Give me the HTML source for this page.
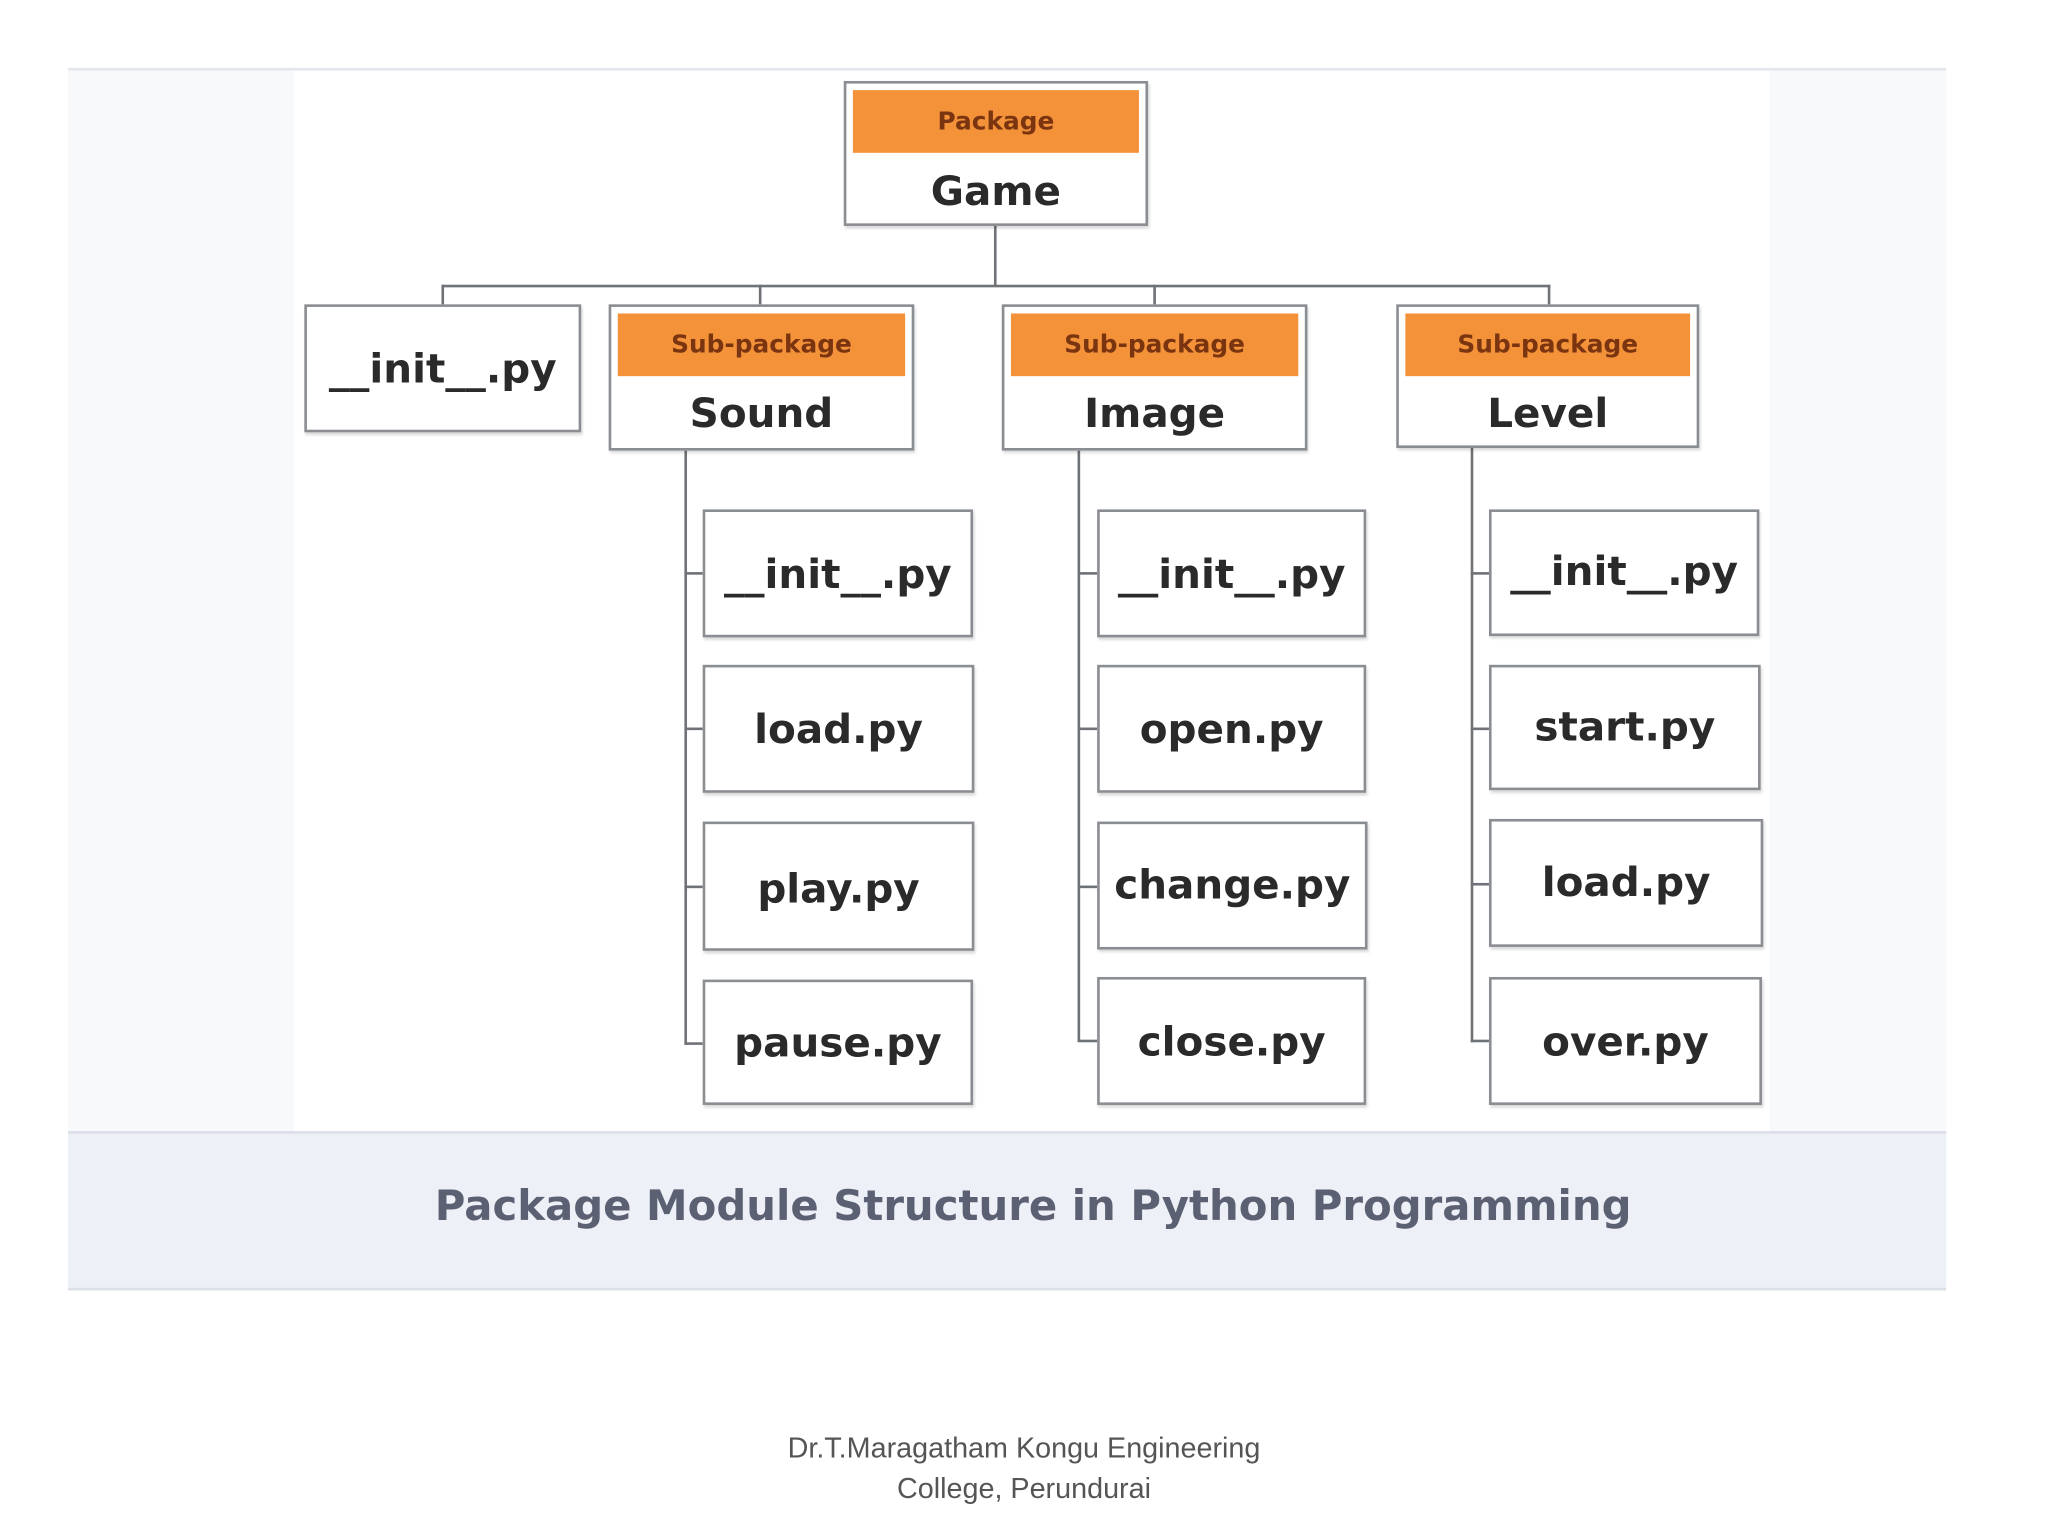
<!DOCTYPE html>
<html><head><meta charset="utf-8"><style>
html,body{margin:0;padding:0;background:#fff;width:2048px;height:1536px;overflow:hidden}
#w{position:absolute;left:0;top:0;width:1568px;height:1176px;transform:scale(1.30612);transform-origin:0 0;font-family:"DejaVu Sans","Liberation Sans",sans-serif}
.a{position:absolute;box-sizing:border-box}
.box{position:absolute;box-sizing:border-box;border:2px solid #8a8d92;background:#fff;box-shadow:1px 2px 2px rgba(0,0,0,.15)}
.t{position:absolute;left:0;right:0;text-align:center;color:#2a2a2a;font-size:31px;font-weight:bold}
.hd{position:absolute;left:5px;right:5px;top:5px;height:48px;background:#f4923a;color:#7a3510;font-weight:bold;font-size:19px;text-align:center;line-height:48px}
.l{position:absolute;background:#6f7277}
</style></head><body><div id="w">
<div class="a" style="left:52px;top:52px;width:1438px;height:936px;background:#f8f9fb;border-top:2px solid #e3e6ec"></div>
<div class="a" style="left:225px;top:54px;width:1130px;height:812px;background:#fff"></div>
<div class="a" style="left:52px;top:866px;width:1438px;height:122px;background:#eef0f8;border-top:2px solid #dcdfe8;border-bottom:2px solid #dcdfe8"></div>
<div class="a" style="left:72px;top:904px;width:1438px;text-align:center;font-size:32px;font-weight:bold;color:#5b6072">Package Module Structure in Python Programming</div>

<div class="l" style="left:761px;top:172px;width:2px;height:47px"></div>
<div class="l" style="left:338px;top:218px;width:849px;height:2px"></div>
<div class="l" style="left:338px;top:218px;width:2px;height:16px"></div>
<div class="l" style="left:581px;top:218px;width:2px;height:16px"></div>
<div class="l" style="left:883px;top:218px;width:2px;height:16px"></div>
<div class="l" style="left:1185px;top:218px;width:2px;height:16px"></div>
<div class="l" style="left:524px;top:345px;width:2px;height:455px"></div>
<div class="l" style="left:825px;top:345px;width:2px;height:452px"></div>
<div class="l" style="left:1126px;top:343px;width:2px;height:455px"></div>
<div class="l" style="left:524px;top:438px;width:14px;height:2px"></div>
<div class="l" style="left:524px;top:557px;width:14px;height:2px"></div>
<div class="l" style="left:524px;top:678px;width:14px;height:2px"></div>
<div class="l" style="left:524px;top:798px;width:14px;height:2px"></div>
<div class="l" style="left:825px;top:438px;width:15px;height:2px"></div>
<div class="l" style="left:825px;top:557px;width:15px;height:2px"></div>
<div class="l" style="left:825px;top:678px;width:15px;height:2px"></div>
<div class="l" style="left:825px;top:796px;width:15px;height:2px"></div>
<div class="l" style="left:1126px;top:438px;width:14px;height:2px"></div>
<div class="l" style="left:1126px;top:557px;width:14px;height:2px"></div>
<div class="l" style="left:1126px;top:676px;width:14px;height:2px"></div>
<div class="l" style="left:1126px;top:796px;width:14px;height:2px"></div>

<div class="box" style="left:646px;top:62px;width:233px;height:111px"><div class="hd">Package</div><div class="t" style="top:65px">Game</div></div>
<div class="box" style="left:233px;top:233px;width:212px;height:98px"><div class="t" style="top:30px">__init__.py</div></div>
<div class="box" style="left:466px;top:233px;width:234px;height:112px"><div class="hd">Sub-package</div><div class="t" style="top:64px">Sound</div></div>
<div class="box" style="left:767px;top:233px;width:234px;height:112px"><div class="hd">Sub-package</div><div class="t" style="top:64px">Image</div></div>
<div class="box" style="left:1069px;top:233px;width:232px;height:110px"><div class="hd">Sub-package</div><div class="t" style="top:64px">Level</div></div>

<div class="box" style="left:538px;top:390px;width:207px;height:98px"><div class="t" style="top:30px">__init__.py</div></div>
<div class="box" style="left:538px;top:509px;width:208px;height:98px"><div class="t" style="top:30px">load.py</div></div>
<div class="box" style="left:538px;top:629px;width:208px;height:99px"><div class="t" style="top:32px">play.py</div></div>
<div class="box" style="left:538px;top:750px;width:207px;height:96px"><div class="t" style="top:29px">pause.py</div></div>

<div class="box" style="left:840px;top:390px;width:206px;height:98px"><div class="t" style="top:30px">__init__.py</div></div>
<div class="box" style="left:840px;top:509px;width:206px;height:98px"><div class="t" style="top:30px">open.py</div></div>
<div class="box" style="left:840px;top:629px;width:207px;height:98px"><div class="t" style="top:29px">change.py</div></div>
<div class="box" style="left:840px;top:748px;width:206px;height:98px"><div class="t" style="top:30px">close.py</div></div>

<div class="box" style="left:1140px;top:390px;width:207px;height:97px"><div class="t" style="top:28px">__init__.py</div></div>
<div class="box" style="left:1140px;top:509px;width:208px;height:96px"><div class="t" style="top:28px">start.py</div></div>
<div class="box" style="left:1140px;top:627px;width:210px;height:98px"><div class="t" style="top:29px">load.py</div></div>
<div class="box" style="left:1140px;top:748px;width:209px;height:98px"><div class="t" style="top:30px">over.py</div></div>

<div class="a" style="left:484px;top:1093px;width:600px;text-align:center;font-family:'Liberation Sans',sans-serif;font-size:22px;line-height:31px;color:#555">Dr.T.Maragatham Kongu Engineering<br>College, Perundurai</div>
</div></body></html>
